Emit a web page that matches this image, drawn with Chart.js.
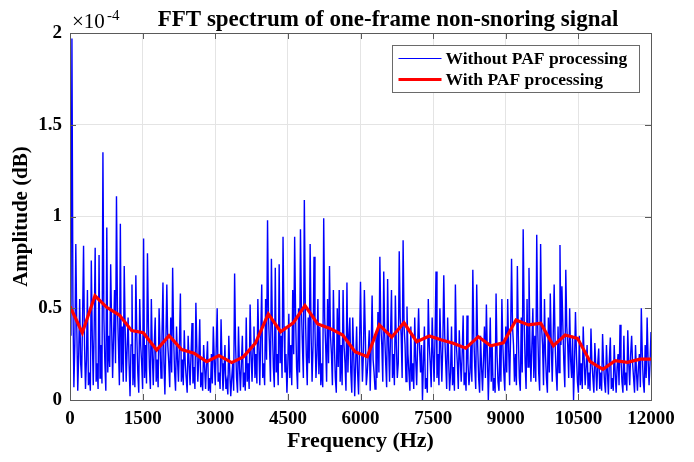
<!DOCTYPE html>
<html>
<head>
<meta charset="utf-8">
<script src="https://cdn.jsdelivr.net/npm/chart.js@4.4.1/dist/chart.umd.min.js"></script>
<style>
html, body { margin: 0; padding: 0; background: #fff; }
#wrap { width: 694px; height: 462px; }
</style>
</head>
<body>
<div id="wrap"><canvas id="mycanvas" width="694" height="462"></canvas></div>
<script>
// frequency bin spacing of the raw spectrum (Hz)
var binStep = 20;

// raw FFT amplitude, x1e-4, one value per 20 Hz bin (0..12000 Hz)
var rawAmp = [
  0.80,0.35,1.97,0.55,0.07,0.30,0.85,0.40,0.05,0.25,0.55,0.20,0.12,0.45,0.84,0.30,0.06,0.22,0.60,0.08,
  0.15,0.05,0.76,0.35,0.08,0.40,0.83,0.10,0.20,0.06,0.79,0.12,0.30,0.09,1.35,0.45,0.20,0.05,0.94,0.15,
  0.35,0.18,0.74,0.40,0.12,0.35,0.60,0.20,1.11,0.50,0.30,0.08,0.96,0.15,0.40,0.10,0.73,0.38,0.10,0.28,
  0.45,0.20,0.02,0.30,0.63,0.08,0.25,0.07,0.68,0.35,0.15,0.04,0.55,0.30,0.20,0.06,0.88,0.12,0.30,0.09,
  0.80,0.40,0.18,0.06,0.55,0.25,0.08,0.30,0.45,0.10,0.22,0.07,0.50,0.30,0.12,0.35,0.64,0.20,0.03,0.32,
  0.63,0.30,0.20,0.07,0.45,0.15,0.72,0.35,0.15,0.05,0.40,0.22,0.10,0.30,0.58,0.10,0.22,0.08,0.38,0.20,
  0.12,0.04,0.35,0.20,0.08,0.25,0.42,0.09,0.18,0.06,0.53,0.28,0.10,0.22,0.44,0.07,0.15,0.05,0.30,0.18,
  0.06,0.20,0.32,0.05,0.12,0.04,0.25,0.09,0.40,0.22,0.08,0.28,0.50,0.10,0.15,0.06,0.44,0.20,0.05,0.15,
  0.30,0.06,0.10,0.03,0.35,0.15,0.02,0.12,0.20,0.05,0.69,0.30,0.12,0.04,0.40,0.18,0.05,0.20,0.35,0.07,
  0.15,0.05,0.45,0.10,0.20,0.06,0.52,0.25,0.10,0.28,0.40,0.12,0.25,0.09,0.55,0.30,0.08,0.35,0.63,0.12,
  0.20,0.08,0.55,0.22,0.98,0.45,0.30,0.10,0.77,0.40,0.18,0.07,0.72,0.15,0.25,0.08,0.74,0.20,0.35,0.12,
  0.89,0.40,0.15,0.25,0.04,0.20,0.47,0.12,0.30,0.08,0.60,0.25,0.89,0.45,0.18,0.06,0.50,0.15,0.93,0.50,
  0.30,0.12,1.09,0.50,0.25,0.08,0.45,0.20,0.85,0.35,0.10,0.30,0.78,0.38,0.12,0.25,0.55,0.14,0.40,0.08,
  0.20,0.07,0.99,0.45,0.30,0.10,0.55,0.20,0.73,0.35,0.25,0.08,0.60,0.30,0.12,0.04,0.50,0.18,0.60,0.10,
  0.30,0.08,0.60,0.30,0.20,0.05,0.64,0.15,0.35,0.45,0.15,0.04,0.45,0.25,0.02,0.20,0.40,0.15,0.03,0.30,
  0.645,0.30,0.10,0.25,0.60,0.35,0.08,0.15,0.25,0.38,0.05,0.28,0.57,0.22,0.15,0.06,0.35,0.12,0.48,0.15,
  0.78,0.40,0.30,0.10,0.70,0.35,0.20,0.07,0.66,0.30,0.10,0.35,0.60,0.12,0.25,0.08,0.57,0.30,0.12,0.20,
  0.81,0.45,0.35,0.12,0.87,0.40,0.30,0.10,0.51,0.25,0.15,0.05,0.40,0.10,0.20,0.06,0.45,0.22,0.08,0.30,
  0.50,0.28,0.15,0.30,0.00,0.20,0.40,0.06,0.12,0.04,0.55,0.30,0.20,0.07,0.45,0.25,0.10,0.35,0.70,0.12,
  0.25,0.08,0.50,0.28,0.10,0.30,0.68,0.35,0.20,0.06,0.45,0.22,0.05,0.15,0.40,0.08,0.18,0.05,0.63,0.30,
  0.20,0.06,0.38,0.22,0.10,0.25,0.46,0.08,0.15,0.05,0.46,0.20,0.08,0.15,0.30,0.10,0.71,0.35,0.18,0.06,
  0.63,0.30,0.12,0.04,0.35,0.18,0.05,0.22,0.40,0.12,0.52,0.25,0.00,0.20,0.45,0.10,0.30,0.05,0.12,0.04,
  0.58,0.25,0.10,0.05,0.30,0.10,0.55,0.30,0.15,0.05,0.40,0.15,0.55,0.28,0.08,0.35,0.77,0.40,0.30,0.10,
  0.25,0.08,0.73,0.35,0.12,0.05,0.45,0.15,0.93,0.45,0.20,0.06,0.55,0.18,0.72,0.30,0.10,0.30,0.50,0.12,
  0.35,0.10,0.90,0.40,0.15,0.05,0.85,0.40,0.30,0.08,0.55,0.25,0.12,0.04,0.45,0.15,0.58,0.30,0.10,0.35,
  0.63,0.30,0.15,0.05,0.40,0.15,0.845,0.30,0.62,0.40,0.20,0.07,0.71,0.40,0.30,0.12,0.50,0.22,0.12,0.35,
  0.00,0.20,0.48,0.25,0.10,0.04,0.35,0.08,0.20,0.06,0.40,0.22,0.08,0.18,0.30,0.06,0.15,0.05,0.39,0.20,
  0.12,0.04,0.31,0.18,0.05,0.20,0.28,0.06,0.15,0.05,0.36,0.20,0.10,0.04,0.30,0.15,0.03,0.22,0.34,0.06,
  0.12,0.05,0.30,0.15,0.04,0.18,0.25,0.08,0.41,0.22,0.10,0.04,0.35,0.08,0.15,0.05,0.38,0.20,0.08,0.25,
  0.35,0.20,0.12,0.04,0.30,0.15,0.05,0.18,0.25,0.07,0.50,0.25,0.10,0.04,0.30,0.12,0.45,0.22,0.08,0.20,
  0.37
];

// PAF processed envelope points
var pafFreq = [
  0, 254, 516, 758, 1019, 1274, 1514, 1790, 2045, 2307,
  2561, 2823, 3077, 3340, 3579, 3830, 4096, 4351, 4612, 4854,
  5116, 5370, 5633, 5886, 6140, 6388, 6644, 6898, 7161, 7421,
  7677, 7917, 8173, 8434, 8690, 8950, 9212, 9467, 9723, 9985,
  10227, 10482, 10744, 11006, 11260, 11514, 11773, 12000
];
var pafAmp = [
  0.51, 0.367, 0.568, 0.505, 0.463, 0.378, 0.367, 0.272, 0.35, 0.275,
  0.255, 0.209, 0.242, 0.204, 0.235, 0.31, 0.469, 0.372, 0.421, 0.514,
  0.414, 0.39, 0.354, 0.263, 0.236, 0.409, 0.342, 0.421, 0.318, 0.349,
  0.327, 0.309, 0.282, 0.345, 0.296, 0.312, 0.436, 0.409, 0.418, 0.296,
  0.354, 0.336, 0.209, 0.167, 0.214, 0.205, 0.223, 0.223
];

var xTicks = [0, 1500, 3000, 4500, 6000, 7500, 9000, 10500, 12000];
var yTicks = [0, 0.5, 1, 1.5, 2];

var titleText = 'FFT spectrum of one-frame non-snoring signal';
var xLabel = 'Frequency (Hz)';
var yLabel = 'Amplitude (dB)';
var serif = '"Liberation Serif", "Times New Roman", serif';

var rawPts = [];
for (var i = 0; i < rawAmp.length; i++) {
  rawPts.push({x: i * binStep, y: rawAmp[i]});
}
var pafPts = [];
for (var j = 0; j < pafFreq.length; j++) {
  pafPts.push({x: pafFreq[j], y: pafAmp[j]});
}

// box, inward ticks, title, exponent and legend (matlab look)
var matlabFrame = {
  id: 'matlabFrame',
  afterDraw: function(chart) {
    var ctx = chart.ctx, a = chart.chartArea;
    var xs = chart.scales.x, ys = chart.scales.y;
    ctx.save();
    ctx.strokeStyle = '#5a5a5a';
    ctx.lineWidth = 1;
    ctx.strokeRect(Math.round(a.left) + 0.5, Math.round(a.top) + 0.5,
      Math.round(a.right - a.left), Math.round(a.bottom - a.top));
    ctx.beginPath();
    xTicks.forEach(function(v) {
      var px = Math.round(xs.getPixelForValue(v)) + 0.5;
      ctx.moveTo(px, a.bottom); ctx.lineTo(px, a.bottom - 6);
      ctx.moveTo(px, a.top); ctx.lineTo(px, a.top + 6);
    });
    yTicks.forEach(function(v) {
      var py = Math.round(ys.getPixelForValue(v)) + 0.5;
      ctx.moveTo(a.left, py); ctx.lineTo(a.left + 6, py);
      ctx.moveTo(a.right, py); ctx.lineTo(a.right - 6, py);
    });
    ctx.stroke();

    ctx.fillStyle = '#000';
    ctx.textBaseline = 'alphabetic';
    // title
    ctx.font = 'bold 23px ' + serif;
    ctx.textAlign = 'center';
    ctx.fillText(titleText, 388, 26);
    // exponent
    ctx.textAlign = 'left';
    ctx.font = '21px ' + serif;
    ctx.fillText('\u00d710', 72, 28);
    ctx.font = '15px ' + serif;
    ctx.fillText('-4', 107, 20);

    // legend
    var lx = 392.5, ly = 45.5, lw = 247, lh = 47;
    ctx.fillStyle = '#fff';
    ctx.fillRect(lx, ly, lw, lh);
    ctx.strokeStyle = '#6a6a6a';
    ctx.strokeRect(lx, ly, lw, lh);
    ctx.font = 'bold 17.5px ' + serif;
    chart.data.datasets.forEach(function(ds, k) {
      var yy = ly + 13 + k * 21;
      ctx.strokeStyle = ds.borderColor;
      ctx.lineWidth = k === 0 ? 1.2 : 3;
      ctx.beginPath();
      ctx.moveTo(lx + 6, yy); ctx.lineTo(lx + 49, yy);
      ctx.stroke();
      ctx.fillStyle = '#000';
      ctx.textBaseline = 'middle';
      ctx.fillText(ds.label, lx + 53, yy + 1);
    });
    ctx.restore();
  }
};

var ctx = document.getElementById('mycanvas');
var chart = new Chart(ctx, {
  type: 'line',
  data: {
    datasets: [
      {
        label: 'Without PAF processing',
        data: rawPts,
        borderColor: '#0000ff',
        borderWidth: 1.4,
        pointRadius: 0,
        fill: false,
        order: 1
      },
      {
        label: 'With PAF processing',
        data: pafPts,
        borderColor: '#ff0000',
        borderWidth: 3.2,
        pointRadius: 0,
        fill: false,
        order: 0
      }
    ]
  },
  options: {
    animation: false,
    responsive: false,
    devicePixelRatio: 1,
    layout: {padding: {left: 0, right: 43, top: 33, bottom: 0}},
    plugins: {legend: {display: false}, tooltip: {enabled: false}},
    scales: {
      x: {
        type: 'linear',
        min: 0, max: 12000,
        afterFit: function(s) { s.height = 62; },
        afterBuildTicks: function(s) { s.ticks = xTicks.map(function(v) { return {value: v}; }); },
        grid: {color: '#e4e4e4', drawTicks: false},
        border: {display: false},
        ticks: {
          padding: 8,
          color: '#000',
          font: {family: serif, size: 19, weight: 'bold'},
          maxRotation: 0,
          autoSkip: false,
          callback: function(v) { return String(v); }
        },
        title: {
          display: true, text: xLabel, color: '#000',
          font: {family: serif, size: 22, weight: 'bold'},
          padding: {top: 0, bottom: 7}
        }
      },
      y: {
        min: 0, max: 2,
        afterFit: function(s) { s.width = 70; },
        afterBuildTicks: function(s) { s.ticks = yTicks.map(function(v) { return {value: v}; }); },
        grid: {color: '#e4e4e4', drawTicks: false},
        border: {display: false},
        ticks: {
          padding: 8,
          color: '#000',
          font: {family: serif, size: 19, weight: 'bold'},
          callback: function(v) { return String(v); }
        },
        title: {
          display: true, text: yLabel, color: '#000',
          font: {family: serif, size: 21, weight: 'bold'},
          padding: {top: 9, bottom: 0}
        }
      }
    }
  },
  plugins: [matlabFrame]
});
</script>
</body>
</html>
